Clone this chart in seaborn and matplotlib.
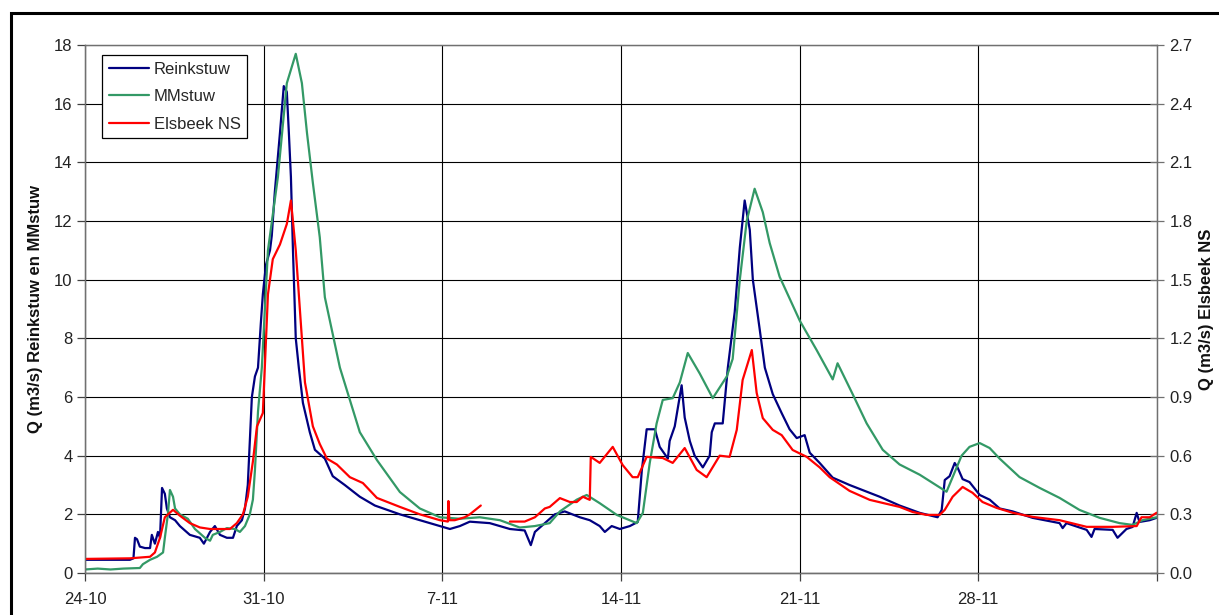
import matplotlib
matplotlib.use("Agg")
import matplotlib.pyplot as plt
import seaborn as sns
import pandas as pd
import numpy as np
from matplotlib.patches import Rectangle

# ---- data (days after 24-10) ----
days_reink = [0, 0.59, 1.76, 1.90, 1.96, 2.04, 2.15, 2.35, 2.55, 2.62, 2.74, 2.86, 2.94, 3.02, 3.13, 3.21,
              3.33, 3.53, 3.72, 4.11, 4.50, 4.66, 4.90, 5.09, 5.29, 5.56, 5.80, 5.95, 6.15, 6.27, 6.38, 6.46,
              6.54, 6.66, 6.78, 6.89, 6.97, 7.09, 7.25, 7.32, 7.44, 7.64, 7.79, 7.91, 7.99, 8.07, 8.15, 8.26,
              8.38, 8.54, 8.81, 9.01, 9.40, 9.71, 10.18, 10.77, 11.36, 12.34, 13.12, 13.91, 14.30, 14.69,
              15.08, 15.86, 16.65, 17.23, 17.47, 17.63, 18.02, 18.41, 18.80, 19.39, 19.78, 20.17, 20.37,
              20.64, 20.96, 21.35, 21.66, 21.82, 22.01, 22.33, 22.52, 22.84, 22.91, 23.11, 23.38, 23.50,
              23.70, 23.89, 24.21, 24.48, 24.56, 24.68, 24.99, 25.19, 25.46, 25.66, 25.85, 26.05, 26.17,
              26.44, 26.64, 26.95, 27.30, 27.61, 27.89, 28.20, 28.40, 28.79, 29.30, 29.96, 31.14, 31.92,
              32.71, 33.41, 33.57, 33.69, 33.88, 34.08, 34.19, 34.39, 34.66, 35.06, 35.45, 35.84, 36.35,
              37.13, 38.19, 38.31, 38.46, 39.25, 39.44, 39.56, 40.27, 40.46, 40.81, 41.05, 41.21, 41.32,
              41.72, 41.99]
q_reink = [0.45, 0.45, 0.45, 0.5, 1.2, 1.15, 0.9, 0.85, 0.85, 1.3, 1.0, 1.4, 1.2, 2.9, 2.7, 2.2,
           1.9, 1.8, 1.6, 1.3, 1.2, 1.0, 1.4, 1.6, 1.3, 1.2, 1.2, 1.6, 1.8, 2.2, 3.0, 4.5,
           6.0, 6.7, 7.0, 8.5, 9.5, 10.5, 11.0, 11.5, 13.0, 15.0, 16.6, 16.4, 15.0, 13.5, 11.0, 8.0,
           7.0, 5.8, 4.8, 4.2, 3.9, 3.3, 3.0, 2.6, 2.3, 2.0, 1.8, 1.6, 1.5, 1.6,
           1.75, 1.7, 1.5, 1.45, 0.95, 1.4, 1.7, 2.0, 2.1, 1.9, 1.8, 1.6, 1.4,
           1.6, 1.5, 1.6, 1.74, 3.5, 4.9, 4.9, 4.3, 3.9, 4.5, 5.0, 6.4, 5.3,
           4.5, 4.0, 3.6, 4.0, 4.8, 5.1, 5.1, 7.0, 8.9, 11.1, 12.7, 11.7, 10.0,
           8.3, 7.0, 6.1, 5.45, 4.9, 4.6, 4.7, 4.1, 3.75, 3.25, 3.0, 2.6, 2.3,
           2.05, 1.9, 2.15, 3.17, 3.3, 3.75, 3.6, 3.2, 3.1, 2.66, 2.5, 2.2, 2.1,
           1.88, 1.7, 1.53, 1.7, 1.47, 1.23, 1.5, 1.47, 1.2, 1.5, 1.57, 2.05, 1.74,
           1.8, 1.88]

days_mm = [0, 0.5, 1.0, 1.5, 2.15, 2.27, 2.55, 2.82, 3.06, 3.13, 3.25, 3.33, 3.45, 3.53, 3.72, 4.03,
           4.31, 4.70, 4.90, 5.01, 5.29, 5.56, 5.88, 6.07, 6.27, 6.46, 6.58, 6.66, 6.78, 6.93, 7.05,
           7.17, 7.56, 7.91, 8.26, 8.50, 8.70, 8.93, 9.20, 9.40, 9.99, 10.38, 10.77, 11.44, 12.34,
           13.12, 13.91, 14.69, 15.47, 16.26, 17.04, 17.63, 18.21, 18.61, 19.27, 19.66, 20.17, 20.84,
           21.62, 21.86, 22.13, 22.40, 22.64, 23.03, 23.31, 23.62, 24.09, 24.60, 25.15, 25.38, 25.66,
           25.93, 26.24, 26.56, 26.83, 27.22, 28.01, 28.67, 29.30, 29.49, 30.08, 30.63, 31.26, 31.92,
           32.71, 33.76, 34.00, 34.35, 34.66, 35.06, 35.45, 35.84, 36.62, 37.41, 38.19, 38.97, 39.76,
           40.54, 41.05, 41.44, 41.99]
q_mm = [0.12, 0.15, 0.12, 0.15, 0.17, 0.3, 0.45, 0.55, 0.7, 1.2, 2.0, 2.83, 2.6, 2.2, 2.0, 1.85,
        1.5, 1.2, 1.1, 1.3, 1.4, 1.53, 1.5, 1.4, 1.6, 2.0, 2.5, 3.5, 5.5, 7.0, 9.0,
        11.0, 13.5, 16.7, 17.7, 16.7, 15.0, 13.3, 11.45, 9.4, 7.0, 5.9, 4.8, 3.85, 2.76,
        2.2, 1.9, 1.85, 1.9, 1.8, 1.55, 1.6, 1.7, 2.1, 2.5, 2.66, 2.38, 1.98,
        1.7, 2.05, 3.75, 5.1, 5.9, 5.96, 6.5, 7.5, 6.8, 5.96, 6.7, 7.3, 10.0,
        12.0, 13.1, 12.3, 11.25, 10.1, 8.6, 7.6, 6.6, 7.15, 6.1, 5.1, 4.2, 3.7,
        3.35, 2.77, 3.27, 4.0, 4.3, 4.43, 4.26, 3.9, 3.27, 2.9, 2.56, 2.15, 1.88,
        1.7, 1.64, 1.8, 1.9]

# Elsbeek NS (right axis, m3/s); two recorded segments with a gap in between
days_els = [0, 1.76, 2.55, 2.74, 2.94, 3.13, 3.45, 3.72, 4.11, 4.50, 4.90, 5.68, 5.95, 6.19, 6.38,
            6.58, 6.74, 6.97, 7.17, 7.36, 7.64, 7.91, 8.07, 8.26, 8.42, 8.62, 8.93, 9.20, 9.48, 9.87,
            10.38, 10.89, 11.44, 12.34, 13.12, 13.91, 14.22, 14.24, 14.28, 14.49, 14.88, 15.08, 15.51,
            16.65, 17.23, 17.63, 18.02, 18.21, 18.61, 19.00, 19.27, 19.51, 19.78, 19.82, 20.17, 20.68,
            21.07, 21.46, 21.66, 22.01, 22.64, 23.03, 23.50, 23.97, 24.36, 24.87, 25.26, 25.54, 25.77,
            26.13, 26.32, 26.56, 26.95, 27.30, 27.73, 28.28, 28.79, 29.18, 29.96, 30.75, 31.92, 32.43,
            32.98, 33.49, 33.69, 34.00, 34.39, 34.78, 35.17, 35.72, 36.35, 37.13, 38.19, 39.25, 40.27,
            41.21, 41.40, 41.72, 41.99]
q_els = [0.072, 0.075, 0.083, 0.105, 0.18, 0.285, 0.323, 0.293, 0.255, 0.233, 0.225, 0.225, 0.255, 0.30, 0.39,
         0.57, 0.75, 0.818, 1.425, 1.605, 1.68, 1.785, 1.905, 1.65, 1.35, 0.975, 0.75, 0.66, 0.585, 0.555,
         0.49, 0.46, 0.384, 0.338, 0.30, 0.27, 0.263, 0.368, 0.27, 0.27, 0.285, 0.30, 0.345,
         0.263, 0.263, 0.285, 0.33, 0.338, 0.383, 0.363, 0.363, 0.39, 0.374, 0.594, 0.563, 0.645,
         0.552, 0.49, 0.49, 0.594, 0.588, 0.563, 0.639, 0.527, 0.49, 0.60, 0.594, 0.732, 0.987,
         1.14, 0.921, 0.792, 0.732, 0.705, 0.629, 0.594, 0.54, 0.49, 0.42, 0.374, 0.338, 0.312,
         0.297, 0.297, 0.323, 0.39, 0.44, 0.41, 0.363, 0.333, 0.308, 0.287, 0.27, 0.236, 0.236,
         0.24, 0.285, 0.285, 0.308]
seg_els = [1] * 43 + [2] * (len(days_els) - 43)

x_ticks = [0, 7, 14, 21, 28, 35, 42]
x_labels = ["24-10", "31-10", "7-11", "14-11", "21-11", "28-11", ""]
left_ticks = [0, 2, 4, 6, 8, 10, 12, 14, 16, 18]
right_ticks = [0.0, 0.3, 0.6, 0.9, 1.2, 1.5, 1.8, 2.1, 2.4, 2.7]
series_names = ["Reinkstuw", "MMstuw", "Elsbeek NS"]

c_blue = "#000080"
c_green = "#339966"
c_red = "#FF0000"

df_r = pd.DataFrame({"day": days_reink, "q": q_reink})
df_m = pd.DataFrame({"day": days_mm, "q": q_mm})
df_e = pd.DataFrame({"day": days_els, "q": q_els, "seg": seg_els})

sns.set_theme(style="white")
plt.rcParams['font.family'] = ['Liberation Sans', 'DejaVu Sans']

fig = plt.figure(figsize=(12.19, 6.15), dpi=100)
ax = fig.add_axes([0.0697, 0.0683, 0.8793, 0.8585])

sns.lineplot(data=df_r, x="day", y="q", ax=ax, color=c_blue, lw=1.6, estimator=None, sort=False, legend=False)
sns.lineplot(data=df_m, x="day", y="q", ax=ax, color=c_green, lw=1.6, estimator=None, sort=False, legend=False)

ax2 = ax.twinx()
sns.lineplot(data=df_e, x="day", y="q", units="seg", ax=ax2, color=c_red, lw=1.6, estimator=None, sort=False,
             legend=False)

ax.set_xlim(0, 42)
ax.set_ylim(0, 18)
ax2.set_ylim(0, 2.7)
ax.set_xticks(x_ticks)
ax.set_xticklabels(x_labels)
ax.set_yticks(left_ticks)
ax.set_yticklabels([str(t) for t in left_ticks])
ax2.set_yticks(right_ticks)
ax2.set_yticklabels([f"{t:.1f}" for t in right_ticks])

ax.grid(True, color="black", lw=0.8)
ax.yaxis.get_gridlines()[-1].set_color("#909090")
ax.xaxis.get_gridlines()[-1].set_color("#707070")
ax2.grid(False)

for a in (ax, ax2):
    for s in a.spines.values():
        s.set_color("#707070")
        s.set_linewidth(0.9)
ax.spines["left"].set_color("#404040")
ax.spines["bottom"].set_color("black")

ax.tick_params(axis="both", direction="out", length=6, width=0.9, color="#404040",
               labelsize=12, labelcolor="#222222", pad=3, left=True, bottom=True)
ax.tick_params(axis="x", pad=8)
ax2.tick_params(axis="y", direction="inout", length=10, width=0.9, color="#707070",
                labelsize=12, labelcolor="#222222", pad=4, right=True)

ax.set_xlabel("")
ax.set_ylabel("Q (m3/s) Reinkstuw en MMstuw", fontsize=12, fontweight="bold", labelpad=8, color="#111111")
ax2.set_ylabel("Q (m3/s) Elsbeek NS", fontsize=12, fontweight="bold", labelpad=5, color="#111111")

handles = [ax.lines[0], ax.lines[1], ax2.lines[0]]
leg = ax2.legend(handles, series_names, loc="upper left", bbox_to_anchor=(0.0159, 0.981),
                 frameon=True, fancybox=False, edgecolor="black", framealpha=1,
                 fontsize=12, handlelength=2.4, handletextpad=0.3, labelspacing=0.75,
                 borderpad=0.4, borderaxespad=0)
leg.get_frame().set_linewidth(0.9)

fig.patches.append(Rectangle((11 / 1219, -0.1), 1.5, 1 - 13 / 615 + 0.1, transform=fig.transFigure,
                             fill=False, edgecolor="black", lw=2.2))

fig.savefig("out.png", dpi=100)
